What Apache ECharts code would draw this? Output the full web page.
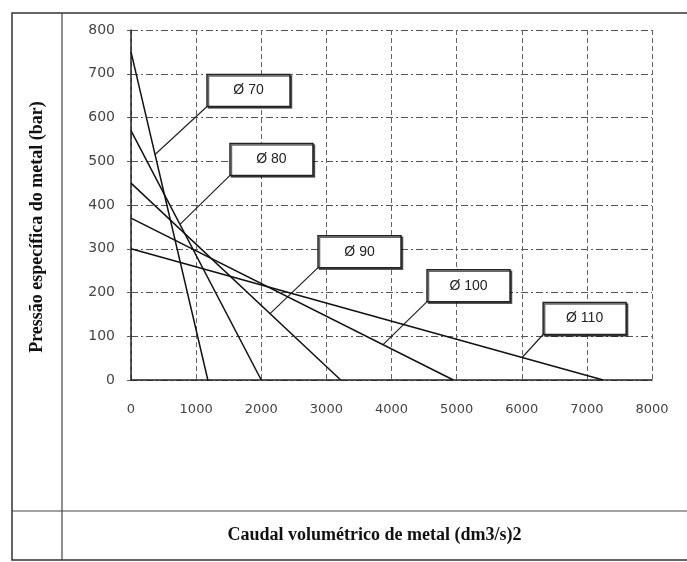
<!DOCTYPE html>
<html><head><meta charset="utf-8">
<script src="https://cdn.jsdelivr.net/npm/echarts@6/dist/echarts.min.js"></script>
<style>html,body{margin:0;padding:0;background:#fff}#c{width:687px;height:562px}</style>
</head><body><div id="c"></div>
<script>
// Data
var diameters = ['Ø 70', 'Ø 80', 'Ø 90', 'Ø 100', 'Ø 110'];
var pressureAtZero = [750, 570, 450, 370, 300];      // bar at flow = 0
var flowAtZero = [1180, 2000, 3220, 4950, 7250];      // flow at pressure = 0
var xTicks = [0, 1000, 2000, 3000, 4000, 5000, 6000, 7000, 8000];
var yTicks = [0, 100, 200, 300, 400, 500, 600, 700, 800];
var xTitle = 'Caudal volumétrico de metal (dm3/s)2';
var yTitle = 'Pressão específica do metal (bar)';
// where each leader touches its line (flow value)
var leaderFlow = [369, 752, 2135, 3870, 6006];

// layout (pixels)
var boxOffset = [[52,-48],[50,-49],[48,-46],[44,-43],[21,-23]];
var boxW = 83, boxH = 32;

var chart = echarts.init(document.getElementById('c'));
var series = diameters.map(function(name, i){
  return {
    type: 'line', name: name, showSymbol: false, silent: true,
    lineStyle: {color: '#111', width: 1.5},
    data: [[0, pressureAtZero[i]], [flowAtZero[i], 0]]
  };
});
var option = {
  animation: false,
  grid: {left: 131, top: 30, right: 35, bottom: 182},
  xAxis: {
    type: 'value', min: xTicks[0], max: xTicks[xTicks.length-1], interval: 1000,
    name: xTitle, nameLocation: 'middle', nameGap: 146,
    nameTextStyle: {fontFamily: 'Liberation Serif', fontWeight: 'bold', fontSize: 18, color: '#111', padding: [0, 34, 0, 0]},
    axisLine: {lineStyle: {color: '#222', width: 1.5}},
    axisTick: {show: false},
    axisLabel: {margin: 23, fontFamily: 'DejaVu Sans', fontSize: 13, color: '#444', formatter: function(v){ return String(v); }},
    splitLine: {show: true, lineStyle: {color: '#666', type: [5,3], width: 1}}
  },
  yAxis: {
    type: 'value', min: yTicks[0], max: yTicks[yTicks.length-1], interval: 100,
    name: yTitle, nameLocation: 'middle', nameGap: 85, nameRotate: 90,
    nameTextStyle: {fontFamily: 'Liberation Serif', fontWeight: 'bold', fontSize: 18, color: '#111', padding: [0, 44, 0, 0]},
    axisLine: {show: true, lineStyle: {color: '#222', width: 1.5}},
    axisTick: {show: true, inside: false, length: 4, lineStyle: {color: '#555'}},
    axisLabel: {margin: 16, fontFamily: 'DejaVu Sans', fontSize: 14, color: '#444', formatter: function(v){ return String(v); }},
    splitLine: {show: true, lineStyle: {color: '#555', type: [7,3,2,3], width: 1}}
  },
  series: series
};
chart.setOption(option);

var g = [];
// frame
g.push({type:'rect', shape:{x:12,y:13,width:690,height:547}, style:{fill:null, stroke:'#333', lineWidth:1.5}, silent:true});
g.push({type:'line', shape:{x1:62,y1:13,x2:62,y2:560}, style:{stroke:'#444', lineWidth:1.2}, silent:true});
g.push({type:'line', shape:{x1:12,y1:511,x2:690,y2:511}, style:{stroke:'#444', lineWidth:1.2}, silent:true});
// callout boxes
diameters.forEach(function(name, i){
  var f = leaderFlow[i];
  var p = pressureAtZero[i] * (1 - f / flowAtZero[i]);
  var pt = chart.convertToPixel({gridIndex:0}, [f, p]);
  var bx = pt[0] + boxOffset[i][0], by = pt[1] + boxOffset[i][1];
  g.push({type:'line', shape:{x1:pt[0],y1:pt[1],x2:bx,y2:by}, style:{stroke:'#222', lineWidth:1.2}, silent:true});
  g.push({type:'rect', shape:{x:bx,y:by-boxH,width:boxW,height:boxH},
    style:{fill:'#fff', stroke:'#222', lineWidth:1.5, shadowColor:'rgba(0,0,0,0.6)', shadowOffsetX:1.5, shadowOffsetY:1.5, shadowBlur:0}, silent:true, z:10});
  g.push({type:'text', x:bx+boxW/2, y:by-boxH/2, style:{text:name, fill:'#222', font:'14px "Liberation Sans"', align:'center', verticalAlign:'middle'}, silent:true, z:11});
});
chart.setOption({graphic: g});
</script>
</body></html>
